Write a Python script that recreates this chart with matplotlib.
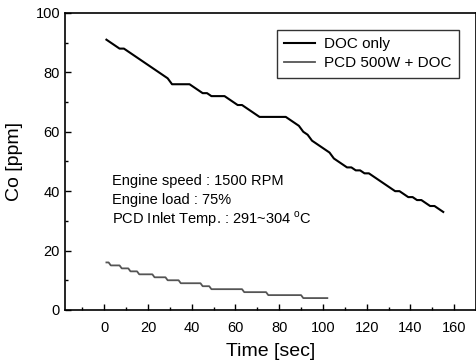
import matplotlib
matplotlib.use("Agg")
import matplotlib.pyplot as plt
from matplotlib.ticker import MultipleLocator

plt.rcParams['font.family'] = ['Liberation Sans', 'DejaVu Sans']
plt.rcParams['mathtext.fontset'] = 'custom'
plt.rcParams['mathtext.rm'] = 'Liberation Sans'

doc_time = [1, 3, 5, 7, 9, 11, 13, 15, 17, 19, 21, 23, 25, 27, 29, 31, 33, 35, 37, 39,
            41, 43, 45, 47, 49, 51, 53, 55, 57, 59, 61, 63, 65, 67, 69, 71, 73, 75, 77, 79,
            81, 83, 85, 87, 89, 91, 93, 95, 97, 99, 101, 103, 105, 107, 109, 111, 113, 115, 117, 119,
            121, 123, 125, 127, 129, 131, 133, 135, 137, 139, 141, 143, 145, 147, 149, 151, 153, 155]
doc_co = [91, 90, 89, 88, 88, 87, 86, 85, 84, 83, 82, 81, 80, 79, 78, 76, 76, 76, 76, 76,
          75, 74, 73, 73, 72, 72, 72, 72, 71, 70, 69, 69, 68, 67, 66, 65, 65, 65, 65, 65,
          65, 65, 64, 63, 62, 60, 59, 57, 56, 55, 54, 53, 51, 50, 49, 48, 48, 47, 47, 46,
          46, 45, 44, 43, 42, 41, 40, 40, 39, 38, 38, 37, 37, 36, 35, 35, 34, 33]

pcd_time = [1, 2, 3, 7, 8, 11, 12, 15, 16, 22, 23, 28, 29, 34, 35, 44, 45, 48, 49, 63, 64, 74, 75, 90, 91, 102]
pcd_co = [16, 16, 15, 15, 14, 14, 13, 13, 12, 12, 11, 11, 10, 10, 9, 9, 8, 8, 7, 7, 6, 6, 5, 5, 4, 4]

condition_lines = ['Engine speed : 1500 RPM', 'Engine load : 75%',
                   'PCD Inlet Temp. : 291~304 $^{\\rm o}$C']

fig = plt.figure(figsize=(4.77, 3.6), dpi=100)
ax = fig.add_axes([0.136, 0.139, 0.862, 0.825])

ax.plot(doc_time, doc_co, color='black', lw=1.5, label='DOC only')
ax.plot(pcd_time, pcd_co, color='#555555', lw=1.3, label='PCD 500W + DOC')

ax.set_xlim(-18, 170)
ax.set_ylim(0, 100)
ax.xaxis.set_major_locator(MultipleLocator(20))
ax.xaxis.set_minor_locator(MultipleLocator(10))
ax.yaxis.set_major_locator(MultipleLocator(20))
ax.yaxis.set_minor_locator(MultipleLocator(10))
ax.tick_params(which='both', direction='in', labelsize=10.5)
ax.tick_params(axis='x', pad=8)
ax.tick_params(which='major', length=4, width=1)
ax.tick_params(which='minor', length=2.5, width=1)
for s in ax.spines.values():
    s.set_linewidth(1.2)

ax.set_xlabel('Time [sec]', fontsize=14, labelpad=6)
ax.set_ylabel('Co [ppm]', fontsize=14, labelpad=9)

leg = ax.legend(loc='upper right', fontsize=11, frameon=True, fancybox=False,
                edgecolor='black', handlelength=2.0, handletextpad=0.6,
                borderaxespad=1.1, labelspacing=0.3, borderpad=0.5)
leg.get_frame().set_linewidth(1.0)

for i, line in enumerate(condition_lines):
    ax.text(3.5, 43.5 - i * 6.4, line, fontsize=10.5, va='center', ha='left')

fig.savefig('out.png', dpi=100)
